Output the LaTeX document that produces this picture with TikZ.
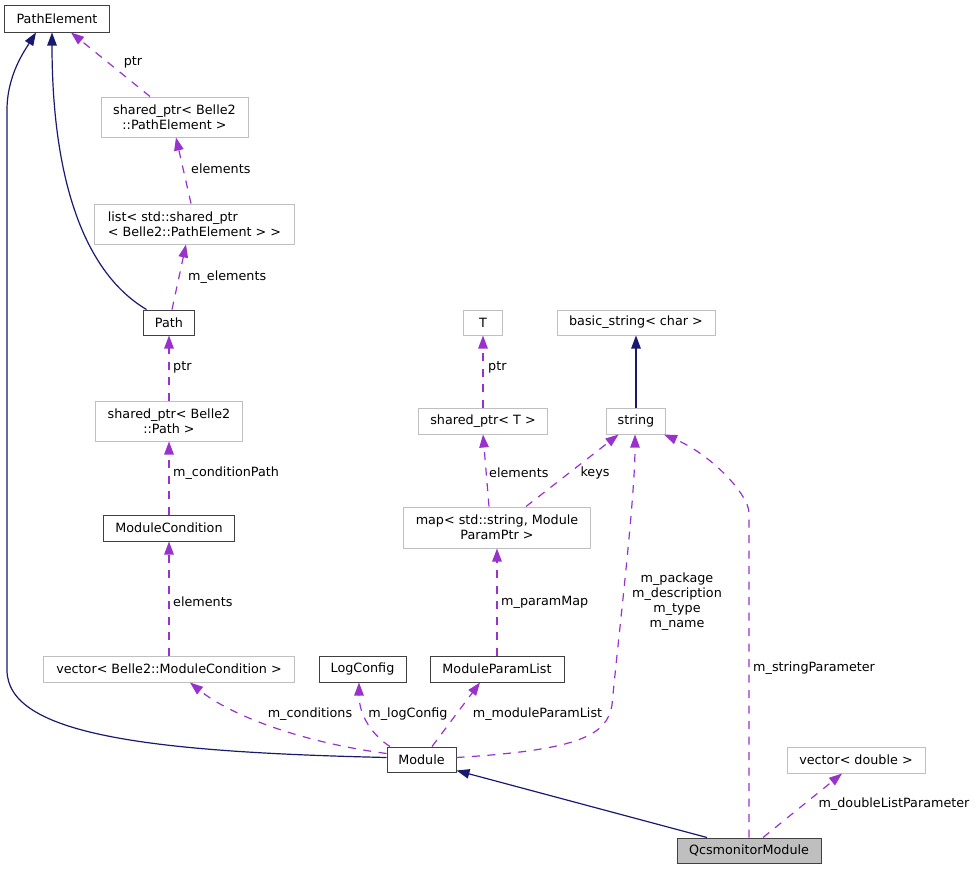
\documentclass[tikz,border=0pt]{standalone}
\usepackage{fontspec}
\setmainfont{DejaVu Sans}
\usetikzlibrary{arrows.meta}
\definecolor{edgeblue}{RGB}{25,25,112}
\definecolor{edgepurple}{RGB}{153,50,204}
\definecolor{boxgrey}{RGB}{191,191,191}
\begin{document}
\begin{tikzpicture}[x=1bp,y=-1bp,
  every node/.style={font=\fontsize{12.8}{15}\selectfont},
  cls/.style={draw=black!75,line width=1bp,inner sep=0pt,minimum height=26bp},
  ext/.style={cls,draw=boxgrey},
  inherit/.style={draw=edgeblue,line width=1.2bp,-{Triangle[length=13bp,width=9.5bp]}},
  usage/.style={draw=edgepurple,line width=1.2bp,dash pattern=on 8bp off 7.5bp,
    -{Triangle[length=13bp,width=9.5bp]}},
  lab/.style={inner sep=0pt}]
\useasboundingbox (0,0) rectangle (977,869);
% クラス
\node[cls,minimum width=104bp] (PathElement) at (57,19) {PathElement};
\node[ext,minimum width=147bp,minimum height=40bp,align=center] (spPE) at (174.5,117) {shared\_ptr< Belle2\\::PathElement >};
\node[ext,minimum width=199bp,minimum height=40bp,align=left] (listPE) at (194.5,224) {list< std::shared\_ptr\\< Belle2::PathElement > >};
\node[cls,minimum width=51bp,minimum height=25bp] (Path) at (169,322.5) {Path};
\node[ext,minimum width=147bp,minimum height=40bp,align=center] (spPath) at (169,421) {shared\_ptr< Belle2\\::Path >};
\node[cls,minimum width=131bp] (ModuleCondition) at (169,528) {ModuleCondition};
\node[ext,minimum width=251bp] (vecMC) at (169,669) {vector< Belle2::ModuleCondition >};
\node[cls,minimum width=87bp] (LogConfig) at (362.5,669) {LogConfig};
\node[cls,minimum width=134bp] (ModuleParamList) at (497,669) {ModuleParamList};
\node[cls,minimum width=69bp,minimum height=25bp] (Module) at (421.5,759.5) {Module};
\node[ext,minimum width=39bp,minimum height=25bp] (T) at (483,322.5) {T};
\node[ext,minimum width=158bp,minimum height=25bp] (basicString) at (636,322.5) {basic\_string< char >};
\node[ext,minimum width=129bp] (spT) at (483,421) {shared\_ptr< T >};
\node[ext,minimum width=59bp] (string) at (636,421) {string};
\node[ext,minimum width=187bp,minimum height=41bp,align=center] (paramMap) at (497,527.5) {map< std::string, Module\\ParamPtr >};
\node[ext,minimum width=138bp] (vecD) at (856,760) {vector< double >};
\node[cls,fill=boxgrey,minimum width=144bp,minimum height=25bp] (Qcs) at (749,850.5) {QcsmonitorModule};
% 継承
\draw[inherit] ([xshift=3.5bp]Path.north west) .. controls (80,270) and (52,170) .. ([xshift=-5bp]PathElement.south);
\draw[inherit] ([yshift=2bp]Module.west) .. controls (150,752) and (7,735) .. (7,670) -- (7,110)
  .. controls (7,75) and (25,50) .. ([xshift=-21bp]PathElement.south);
\draw[inherit] (string.north) -- (basicString.south);
\draw[inherit] ([xshift=-42bp]Qcs.north) -- ([yshift=2bp]Module.south east);
% メンバ
\draw[usage] ([xshift=-24.5bp]spPE.north) -- ([xshift=14bp]PathElement.south);
\draw[usage] ([xshift=-3.5bp]listPE.north) -- ([xshift=1.5bp]spPE.south);
\draw[usage] ([xshift=3bp]Path.north) -- ([xshift=-8.5bp]listPE.south);
\draw[usage] (spPath.north) -- (Path.south);
\draw[usage] (ModuleCondition.north) -- (spPath.south);
\draw[usage] (vecMC.north) -- (ModuleCondition.south);
\draw[usage] ([yshift=6bp]Module.west) .. controls (300,742) and (230,715) .. ([xshift=21bp]vecMC.south);
\draw[usage] ([xshift=-31.5bp]Module.north) .. controls (372,735) and (359,715) .. ([xshift=-3.5bp]LogConfig.south);
\draw[usage] ([xshift=10.5bp]Module.north) -- ([xshift=-17bp]ModuleParamList.south);
\draw[usage] ([yshift=2bp]Module.east) .. controls (580,750) and (607,735) .. (612,705)
  .. controls (618,640) and (635,500) .. ([xshift=-1bp]string.south);
\draw[usage] (ModuleParamList.north) -- (paramMap.south);
\draw[usage] ([xshift=-8bp]paramMap.north) -- (spT.south);
\draw[usage] ([xshift=29bp]paramMap.north) -- ([xshift=-17.5bp]string.south);
\draw[usage] (spT.north) -- (T.south);
\draw[usage] (Qcs.north) -- (749,513) .. controls (749,495) and (712,455) .. ([xshift=28bp]string.south);
\draw[usage] ([xshift=14bp]Qcs.north) -- ([xshift=-14bp]vecD.south);
% ラベル
\node[lab] (lPtrA) at (133,62) {ptr};
\node[lab,anchor=west] (lElemA) at (191,169) {elements};
\node[lab,anchor=west] (lMElem) at (188,277) {m\_elements};
\node[lab,anchor=west] (lPtrB) at (173,367) {ptr};
\node[lab,anchor=west] (lCondPath) at (173,473) {m\_conditionPath};
\node[lab,anchor=west] (lElemB) at (173,602) {elements};
\node[lab] (lConds) at (310,714) {m\_conditions};
\node[lab] (lLog) at (408,714) {m\_logConfig};
\node[lab] (lMPL) at (537.5,714) {m\_moduleParamList};
\node[lab,anchor=west] (lParamMap) at (501,602) {m\_paramMap};
\node[lab,align=center] (lStrings) at (677,602) {m\_package\\m\_description\\m\_type\\m\_name};
\node[lab,anchor=west] (lElemC) at (489,473) {elements};
\node[lab] (lKeys) at (595,473) {keys};
\node[lab,anchor=west] (lPtrC) at (488,367) {ptr};
\node[lab,anchor=west] (lStrParam) at (753,668) {m\_stringParameter};
\node[lab] (lDblList) at (894,804) {m\_doubleListParameter};
\end{tikzpicture}
\end{document}
